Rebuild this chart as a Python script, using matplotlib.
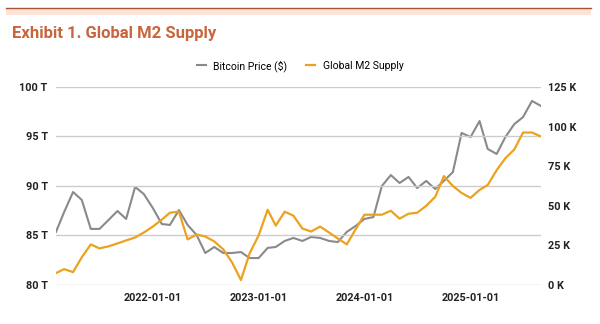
import matplotlib.pyplot as plt
import matplotlib.dates as mdates
import pandas as pd
from matplotlib.ticker import FixedLocator, FuncFormatter

# monthly, Feb 2021 -> Sep 2025
months = pd.date_range('2021-02-01', '2025-09-01', freq='MS')

# Global M2 supply (trillions USD), left axis
m2_supply = [81.2, 81.6, 81.3, 82.8, 84.1, 83.7, 83.9, 84.2, 84.5, 84.8,
             85.3, 85.9, 86.6, 87.3, 87.4, 84.6, 85.1, 84.9, 84.4, 83.6,
             82.3, 80.5, 83.2, 85.0, 87.6, 86.0, 87.4, 87.0, 85.7, 85.4,
             85.9, 85.3, 84.7, 84.1, 85.6, 87.1, 87.1, 87.1, 87.5, 86.7,
             87.2, 87.3, 88.0, 88.9, 91.0, 90.0, 89.3, 88.8, 89.6, 90.1,
             91.6, 92.8, 93.7, 95.4, 95.4, 95.0]

# Bitcoin price (thousands USD), right axis
btc_price = [33.5, 46.0, 58.7, 53.7, 35.4, 35.4, 41.0, 46.7, 41.7, 61.9,
             57.4, 48.6, 38.5, 37.9, 47.3, 37.9, 31.6, 20.2, 24.0, 20.2,
             20.2, 20.8, 17.0, 17.0, 23.4, 24.0, 27.8, 29.7, 27.8, 30.3,
             29.7, 27.8, 27.1, 33.5, 37.2, 41.7, 42.9, 62.5, 69.4, 64.4,
             68.2, 61.2, 65.7, 60.6, 65.7, 71.3, 96.0, 93.4, 103.5, 85.9,
             82.7, 93.4, 101.6, 106.0, 116.2, 113.0]

left_ticks = [80, 85, 90, 95, 100]
right_ticks = [0, 25, 50, 75, 100, 125]
x_ticks = ['2022-01-01', '2023-01-01', '2024-01-01', '2025-01-01']

gray = '#8a8a8a'
orange = '#eba21e'
title_color = '#c9653c'

fig = plt.figure(figsize=(6, 3.24), dpi=100)
ax = fig.add_axes([0.0933, 0.1204, 0.8084, 0.6111])
ax2 = ax.twinx()

ax.plot(months, m2_supply, color=orange, lw=1.6, zorder=3, label='Global M2 Supply')
ax2.plot(months, btc_price, color=gray, lw=1.5, zorder=2, label='Bitcoin Price ($)')
ax.set_zorder(ax2.get_zorder() + 1)
ax.patch.set_visible(False)

ax.set_xlim(months[0], months[-1])
ax.set_ylim(80, 100)
ax2.set_ylim(0, 125)

ax.yaxis.set_major_locator(FixedLocator(left_ticks))
ax.yaxis.set_major_formatter(FuncFormatter(lambda v, p: f'{v:.0f} T'))
ax2.yaxis.set_major_locator(FixedLocator(right_ticks))
ax2.yaxis.set_major_formatter(FuncFormatter(lambda v, p: f'{v:.0f} K'))

ax.set_xticks([mdates.datestr2num(d) for d in x_ticks])
ax.set_xticklabels(x_ticks)

ax.grid(axis='y', color='#cccccc', lw=1.0)
ax.grid(axis='x', visible=False)
for a in (ax, ax2):
    for s in a.spines.values():
        s.set_visible(False)
    a.tick_params(length=0, labelsize=7.8, colors='#222222')
ax.tick_params(axis='y', pad=6)
ax2.tick_params(axis='y', pad=5)
ax.tick_params(axis='x', pad=6)
for lbl in ax.get_yticklabels() + ax2.get_yticklabels() + ax.get_xticklabels():
    lbl.set_fontweight('bold')
    lbl.set_fontfamily('Roboto')

# legend, grey first
h1, l1 = ax2.get_legend_handles_labels()
h2, l2 = ax.get_legend_handles_labels()
fig.legend(h1 + h2, l1 + l2, loc='center', bbox_to_anchor=(0.5, 0.797), ncol=2,
           frameon=False, handlelength=0.9, handletextpad=0.7, columnspacing=1.8,
           prop={'family': 'Roboto', 'size': 7.5})

# header line and title
fig.add_artist(plt.Line2D([0.01, 0.985], [0.975, 0.975], color='#a8503a', lw=1.0))
fig.add_artist(plt.Rectangle((0.01, 0.955), 0.975, 0.018, color='#fbe3d6', lw=0))
fig.text(0.02, 0.897, 'Exhibit 1. Global M2 Supply', color=title_color,
         fontsize=12, fontweight='bold', family='Roboto', va='center')

fig.savefig('out.png', dpi=100)
